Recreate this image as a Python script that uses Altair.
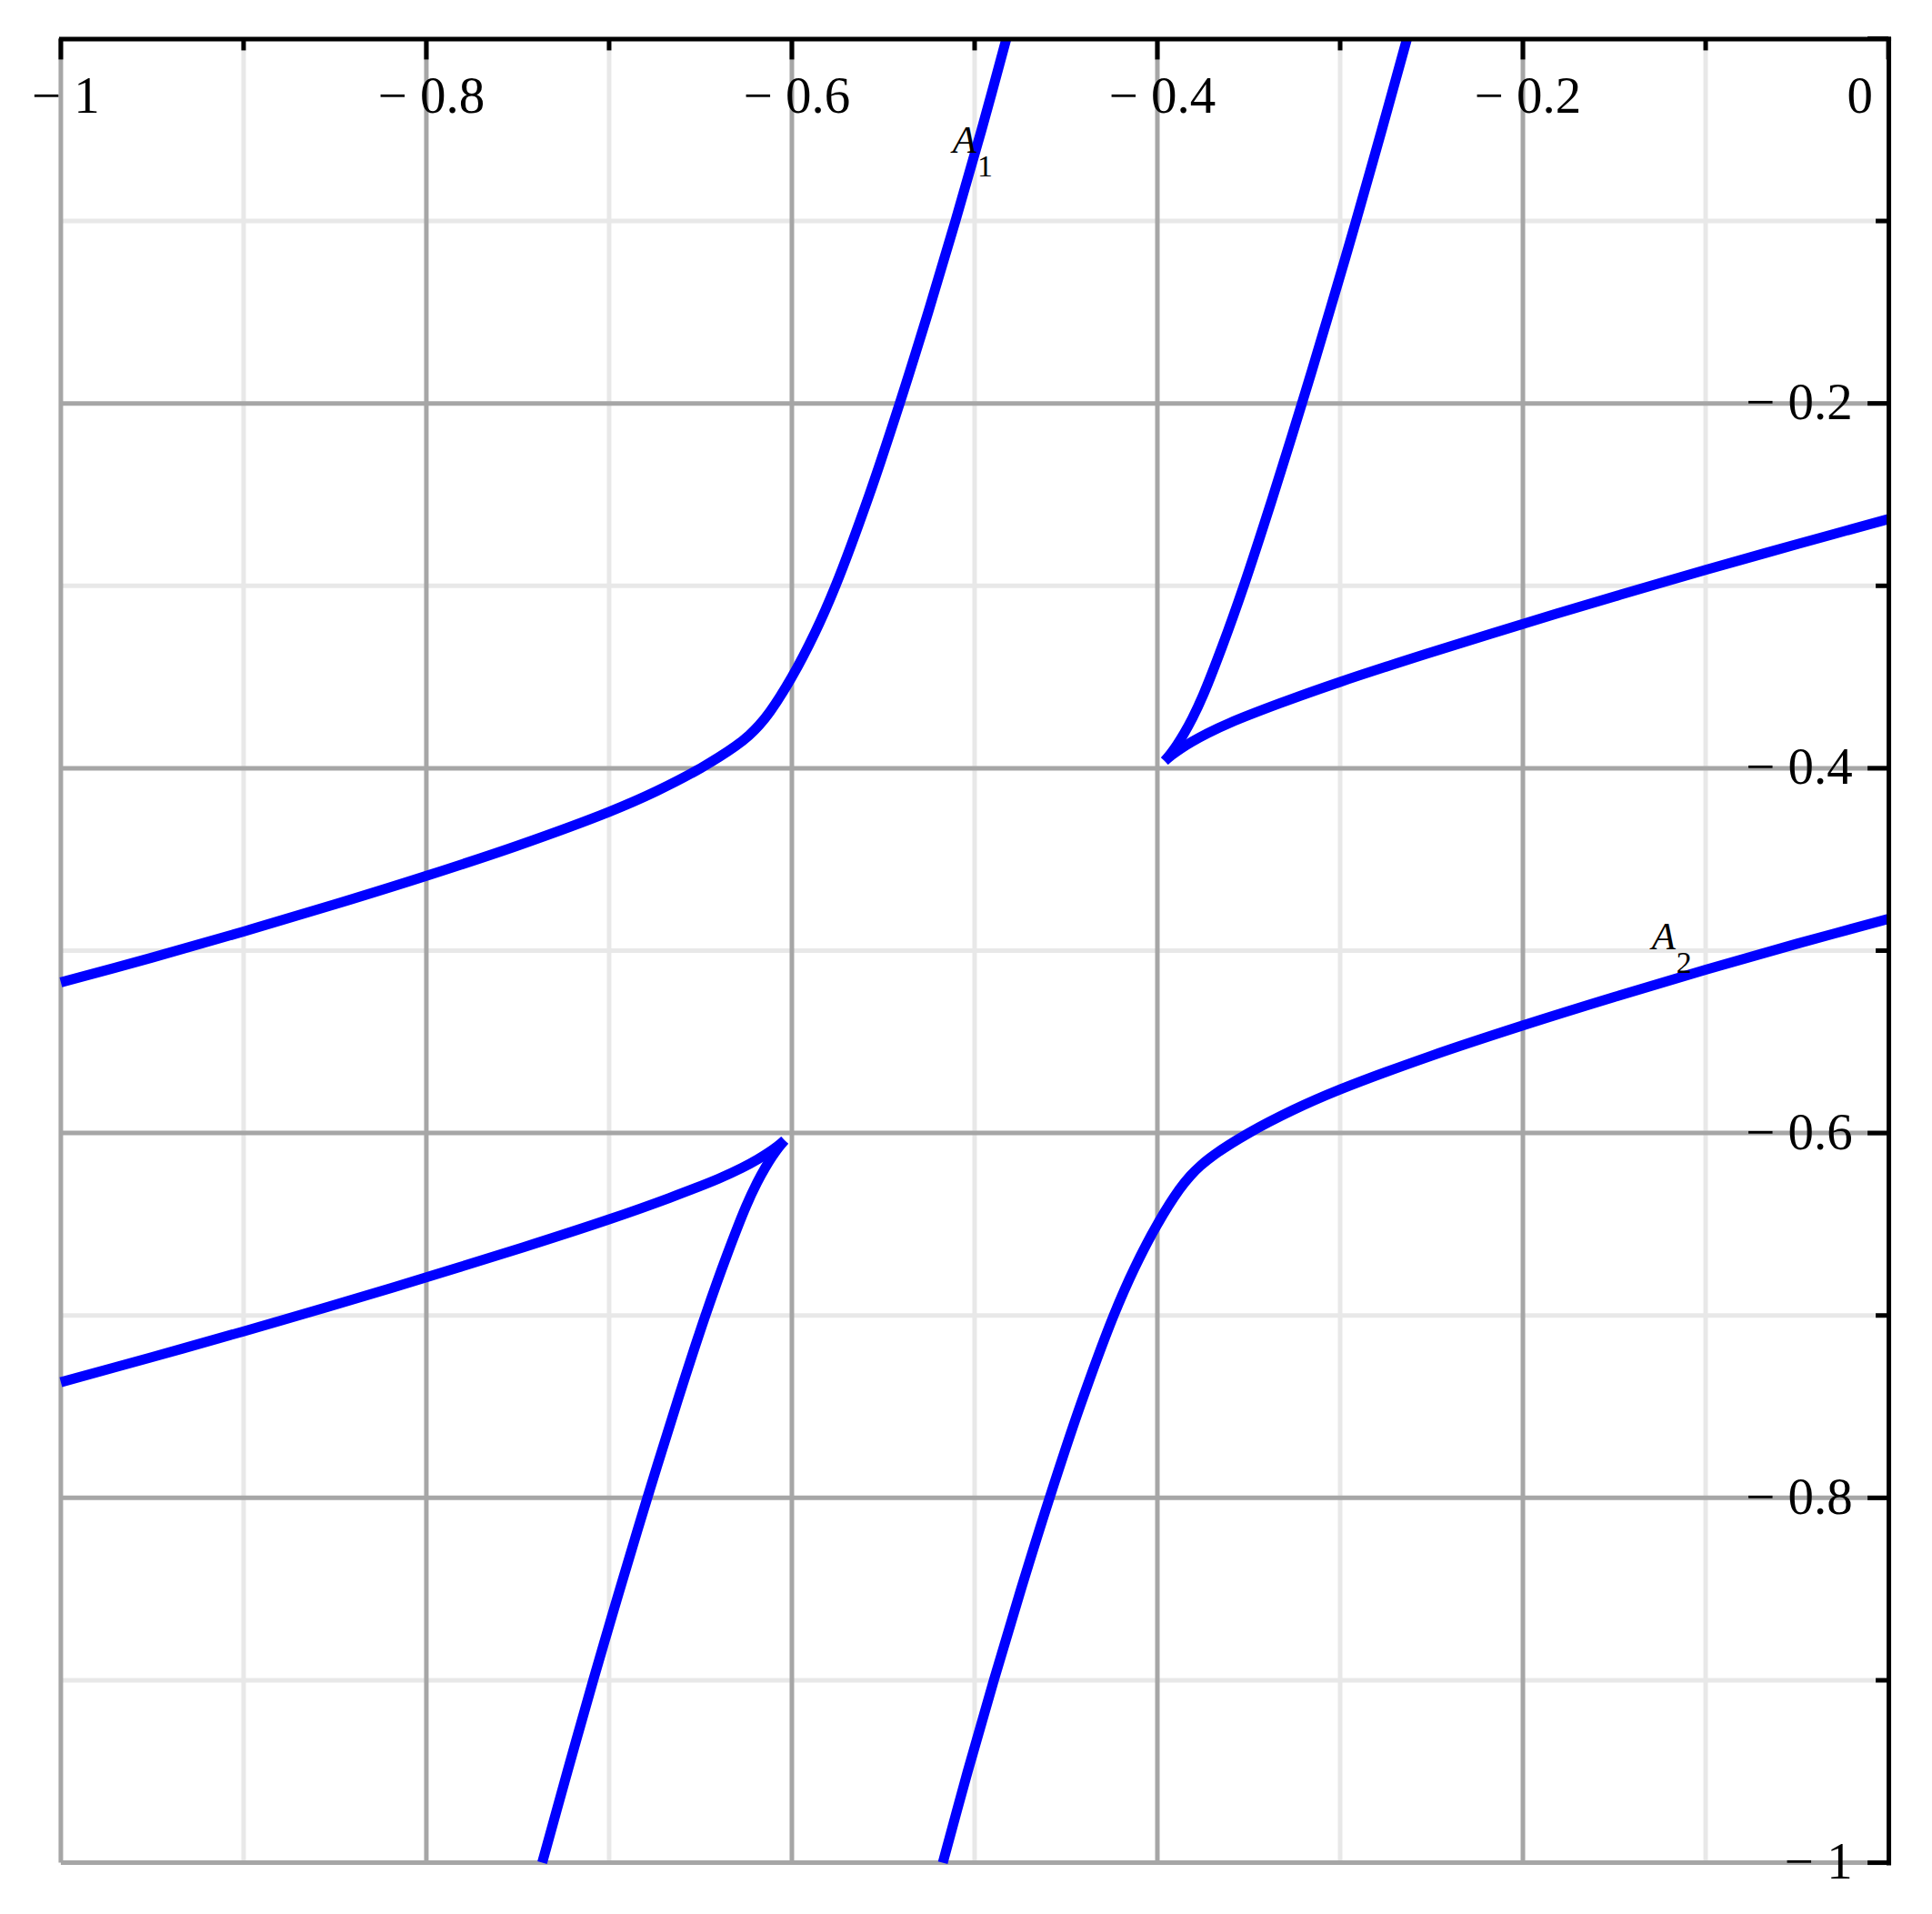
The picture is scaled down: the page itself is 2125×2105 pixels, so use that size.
import altair as alt
import pandas as pd

# ---------------- data ----------------
# curve A1 (upper-left branch)
A1_X = [-1.0, -0.95, -0.9, -0.85, -0.8, -0.75, -0.7, -0.674, -0.65, -0.631, -0.6235, -0.618, -0.612,
        -0.600, -0.5875, -0.5761, -0.5576, -0.5410, -0.5254, -0.5105, -0.4962, -0.4826]
A1_Y = [-0.5174, -0.5038, -0.4895, -0.4746, -0.4590, -0.4424, -0.4239, -0.4125, -0.400, -0.388, -0.382,
        -0.3765, -0.369, -0.350, -0.326, -0.300, -0.250, -0.200, -0.150, -0.100, -0.050, 0.0]

# upper-right cusp curve: steep branch and flat branch
UR_STEEP_X = [-0.3960, -0.3928, -0.3893, -0.3855, -0.3809, -0.3750, -0.3644, -0.3527, -0.3374,
              -0.3209, -0.3049, -0.2913, -0.2772, -0.2634]
UR_STEEP_Y = [-0.3960, -0.3921, -0.3872, -0.3811, -0.3727, -0.3600, -0.3329, -0.3000, -0.2531,
              -0.2000, -0.1466, -0.1000, -0.0500, 0.0]
UR_FLAT_X = [-0.3960, -0.3921, -0.3872, -0.3811, -0.3727, -0.3600, -0.3329, -0.3000, -0.2531,
             -0.2000, -0.1466, -0.1000, -0.0500, 0.0]
UR_FLAT_Y = [-0.3960, -0.3928, -0.3893, -0.3855, -0.3809, -0.3750, -0.3644, -0.3527, -0.3374,
             -0.3209, -0.3049, -0.2913, -0.2772, -0.2634]

# lower-left cusp curve: steep branch and flat branch
LL_STEEP_X = [-0.7366, -0.7228, -0.7087, -0.6951, -0.6791, -0.6626, -0.6473, -0.6356, -0.6250,
              -0.6191, -0.6145, -0.6107, -0.6072, -0.6040]
LL_STEEP_Y = [-1.0, -0.950, -0.900, -0.8534, -0.800, -0.7469, -0.700, -0.6671, -0.6400,
              -0.6273, -0.6189, -0.6128, -0.6079, -0.6040]
LL_FLAT_X = [-1.0, -0.950, -0.900, -0.8534, -0.800, -0.7469, -0.700, -0.6671, -0.6400,
             -0.6273, -0.6189, -0.6128, -0.6079, -0.6040]
LL_FLAT_Y = [-0.7366, -0.7228, -0.7087, -0.6951, -0.6791, -0.6626, -0.6473, -0.6356, -0.6250,
             -0.6191, -0.6145, -0.6107, -0.6072, -0.6040]

# curve A2 (lower-right branch)
A2_X = [-0.5174, -0.5038, -0.4895, -0.4746, -0.4590, -0.4424, -0.4239, -0.4125, -0.400, -0.388,
        -0.382, -0.3765, -0.369, -0.350, -0.326, -0.300, -0.250, -0.200, -0.150, -0.100, -0.050, 0.0]
A2_Y = [-1.0, -0.950, -0.900, -0.850, -0.800, -0.750, -0.700, -0.674, -0.650, -0.631,
        -0.6235, -0.618, -0.612, -0.600, -0.5875, -0.5761, -0.5576, -0.5410, -0.5254, -0.5105, -0.4962, -0.4826]

# curve labels
LABEL_TEXT = ["A", "A"]
LABEL_X = [-0.5055, -0.1230]
LABEL_Y = [-0.0560, -0.4930]
SUB_TEXT = ["1", "2"]
SUB_X = [-0.4943, -0.1118]
SUB_Y = [-0.0707, -0.5072]

# grid / ticks
MINOR_GRID = [-0.9, -0.7, -0.5, -0.3, -0.1]
MAJOR_GRID = [-1.0, -0.8, -0.6, -0.4, -0.2]
MAJOR_TICKS = [-1.0, -0.8, -0.6, -0.4, -0.2, 0.0]
X_LABELS = [-1.0, -0.8, -0.6, -0.4, -0.2, 0.0]
Y_LABELS = [-1.0, -0.8, -0.6, -0.4, -0.2]

# ---------------- build ----------------
segments = [
    ("A1", A1_X, A1_Y),
    ("UR_steep", UR_STEEP_X, UR_STEEP_Y),
    ("UR_flat", UR_FLAT_X, UR_FLAT_Y),
    ("LL_steep", LL_STEEP_X, LL_STEEP_Y),
    ("LL_flat", LL_FLAT_X, LL_FLAT_Y),
    ("A2", A2_X, A2_Y),
]
rows = []
for name, xs, ys in segments:
    for i, (xv, yv) in enumerate(zip(xs, ys)):
        rows.append({"seg": name, "i": i, "x": xv, "y": yv})
curves_df = pd.DataFrame(rows)

W, H = 2013, 2009
BLUE = "#0000FF"
MAJOR_C = "#A6A6A6"
MINOR_C = "#E8E8E8"
FONT = "Liberation Serif"

xscale = alt.Scale(domain=[-1, 0], nice=False, zero=False)
yscale = alt.Scale(domain=[-1, 0], nice=False, zero=False)

x_axis = alt.Axis(
    orient="top", values=X_LABELS, title=None, grid=False, ticks=False, tickSize=0,
    labelExpr="datum.value == 0 ? '0' : '\u2212 ' + format(abs(datum.value), '~g')",
    labelFont=FONT, labelFontSize=57, labelColor="black", labelPadding=-81,
    labelBaseline="alphabetic", labelFlush=False, labelOverlap=False,
    labelOffset={"condition": {"test": "datum.value == 0", "value": -32}, "value": 5},
    domainColor="black", domainWidth=5, domainCap="square", zindex=1,
)
y_axis = alt.Axis(
    orient="right", values=Y_LABELS, title=None, grid=False, ticks=False, tickSize=0,
    labelExpr="'\u2212 ' + format(abs(datum.value), '~g')",
    labelFont=FONT, labelFontSize=57, labelColor="black", labelPadding=-40,
    labelAlign="right", labelBaseline="middle", labelFlush=False, labelOverlap=False,
    domainColor="black", domainWidth=5, domainCap="square", zindex=1,
)


def X(field):
    return alt.X(field, scale=xscale, axis=x_axis)


def Y(field):
    return alt.Y(field, scale=yscale, axis=y_axis)


minor_df = pd.DataFrame({"v": MINOR_GRID})
major_df = pd.DataFrame({"v": MAJOR_GRID})
mtick_df = pd.DataFrame({"v": MAJOR_TICKS})

vminor = alt.Chart(minor_df).mark_rule(color=MINOR_C, strokeWidth=5).encode(x=X("v:Q"))
hminor = alt.Chart(minor_df).mark_rule(color=MINOR_C, strokeWidth=5).encode(y=Y("v:Q"))
vmajor = alt.Chart(major_df).mark_rule(color=MAJOR_C, strokeWidth=5).encode(x=X("v:Q"))
hmajor = alt.Chart(major_df).mark_rule(color=MAJOR_C, strokeWidth=5).encode(y=Y("v:Q"))

curves = alt.Chart(curves_df).mark_line(color=BLUE, strokeWidth=11, interpolate="catmull-rom").encode(
    x=X("x:Q"),
    y=Y("y:Q"),
    detail="seg:N",
    order="i:Q",
)

top_major = alt.Chart(mtick_df).mark_rule(color="black", strokeWidth=5).encode(
    x=X("v:Q"), y=alt.value(0), y2=alt.value(23))
top_minor = alt.Chart(minor_df).mark_rule(color="black", strokeWidth=5).encode(
    x=X("v:Q"), y=alt.value(0), y2=alt.value(13))
right_major = alt.Chart(mtick_df).mark_rule(color="black", strokeWidth=5).encode(
    y=Y("v:Q"), x=alt.value(W - 23), x2=alt.value(W))
right_minor = alt.Chart(minor_df).mark_rule(color="black", strokeWidth=5).encode(
    y=Y("v:Q"), x=alt.value(W - 14), x2=alt.value(W))

lab_df = pd.DataFrame({"t": LABEL_TEXT, "x": LABEL_X, "y": LABEL_Y})
sub_df = pd.DataFrame({"t": SUB_TEXT, "x": SUB_X, "y": SUB_Y})
labels = alt.Chart(lab_df).mark_text(font=FONT, fontStyle="italic", fontSize=43, color="black",
                                     align="center", baseline="middle").encode(
    x=X("x:Q"), y=Y("y:Q"), text="t:N")
subs = alt.Chart(sub_df).mark_text(font=FONT, fontSize=34, color="black",
                                   align="center", baseline="middle").encode(
    x=X("x:Q"), y=Y("y:Q"), text="t:N")

chart = alt.layer(
    vminor, hminor, vmajor, hmajor, curves,
    top_major, top_minor, right_major, right_minor, labels, subs,
).properties(
    width=W, height=H,
    autosize=alt.AutoSizeParams(type="none"),
    padding={"left": 59, "top": 33, "right": 40, "bottom": 40},
    background="white",
).configure_view(stroke=None)

chart.save("out.html", embed_options={"renderer": "svg", "actions": False})
